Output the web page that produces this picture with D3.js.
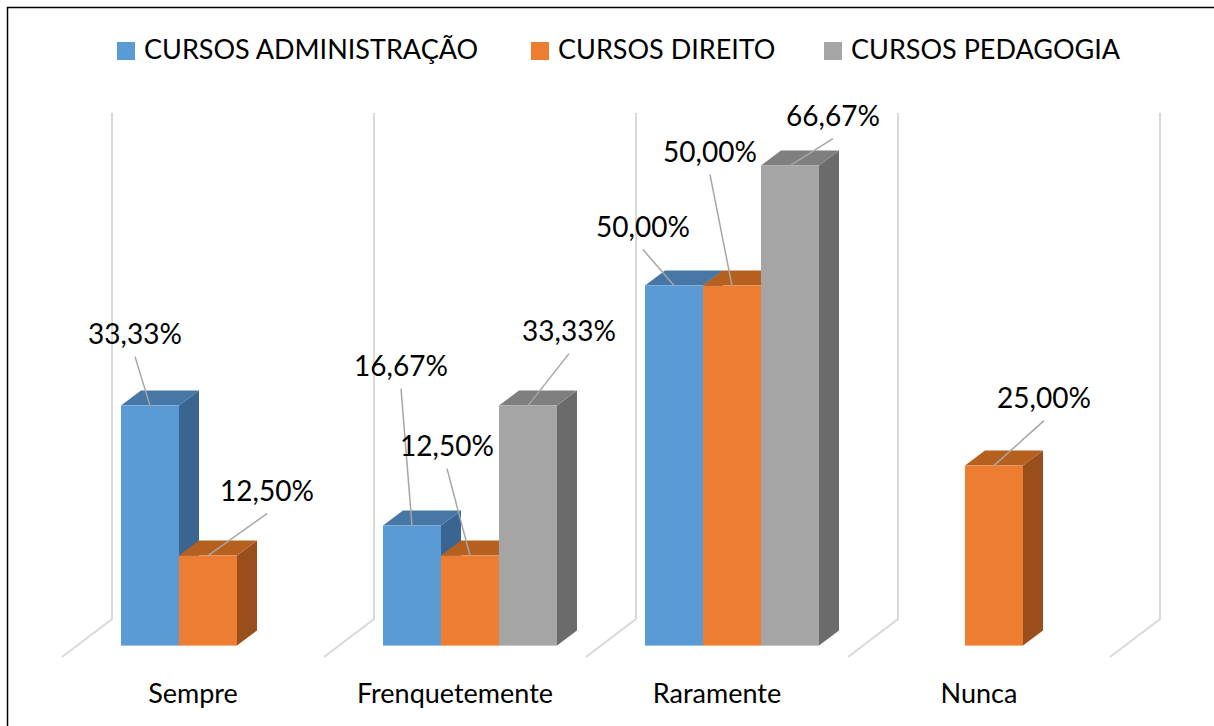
<!DOCTYPE html>
<html>
<head>
<meta charset="utf-8">
<script src="https://cdn.jsdelivr.net/npm/d3@7"></script>
<style>
  body { margin: 0; background: #fff; }
  svg { display: block; font-family: Lato, "Open Sans", sans-serif; }
</style>
</head>
<body>
<svg id="chart" width="1214" height="726"></svg>
<script>
// categories and series
var categories = ["Sempre", "Frenquetemente", "Raramente", "Nunca"];
var series = ["CURSOS ADMINISTRAÇÃO", "CURSOS DIREITO", "CURSOS PEDAGOGIA"];
var adminValues = [33.33, 16.67, 50.00, null];
var direitoValues = [12.50, 12.50, 50.00, 25.00];
var pedagogiaValues = [null, 33.33, 66.67, null];

// manual label placement (text offset from top-front centre of the bar), like in the original
var adminLabelOffset = [[-15, -62], [-11, -150], [-31, -49], null];
var direitoLabelOffset = [[59, -55], [-23, -100], [-22, -124], [50, -58]];
var pedagogiaLabelOffset = [null, [41, -65], [43, -40], null];

var colors = {
    front: ["#5b9bd5", "#ed7d31", "#a5a5a5"],
    top: ["#4677a5", "#b5601f", "#7f7f7f"],
    side: ["#3a6590", "#9a4e1c", "#6b6b6b"]
};

var svg = d3.select("#chart");

// border
svg.append("rect")
    .attr("x", 7.5).attr("y", 7.5)
    .attr("width", 1230).attr("height", 740)
    .attr("fill", "none").attr("stroke", "#000").attr("stroke-width", 1.5);

// floor: front edge y=657, back edge y=619, depth vector (50,-38)
var floorFront = 657, depthX = 50, depthY = -38;
var x = d3.scaleBand().domain(categories).range([62, 1110]);
var xs = d3.scaleBand().domain(d3.range(3)).range([44, 218]);
var h = d3.scaleLinear().domain([0, 100]).range([0, 720]);

// walls / gridlines
var edges = d3.range(categories.length + 1).map(function (i) { return 62 + i * x.step(); });
var grid = svg.append("g").attr("stroke", "#d9d9d9").attr("stroke-width", 2).attr("fill", "none");
edges.forEach(function (ex) {
    grid.append("path")
        .attr("d", "M" + (ex + depthX) + ",113 L" + (ex + depthX) + "," + (floorFront + depthY) +
            " L" + ex + "," + floorFront);
});

// bars: occupy depth fraction 0.3 .. 0.7
var d0 = 0.3, d1 = 0.7;
var allValues = [adminValues, direitoValues, pedagogiaValues];
var allOffsets = [adminLabelOffset, direitoLabelOffset, pedagogiaLabelOffset];

var bars = [];
categories.forEach(function (c, ci) {
    allValues.forEach(function (vals, si) {
        if (vals[ci] == null) return;
        var x0 = x(c) + xs(si) + d0 * depthX;
        var y0 = floorFront + d0 * depthY;
        bars.push({
            cat: c, s: si, v: vals[ci], off: allOffsets[si][ci],
            x0: x0, x1: x0 + xs.bandwidth(), base: y0, top: y0 - h(vals[ci])
        });
    });
});

var ox = (d1 - d0) * depthX, oy = (d1 - d0) * depthY;
var barG = svg.append("g");
bars.forEach(function (b) {
    var g = barG.append("g");
    g.append("path") // side
        .attr("d", "M" + b.x1 + "," + b.base + " L" + (b.x1 + ox) + "," + (b.base + oy) +
            " L" + (b.x1 + ox) + "," + (b.top + oy) + " L" + b.x1 + "," + b.top + "Z")
        .attr("fill", colors.side[b.s]);
    g.append("path") // top
        .attr("d", "M" + b.x0 + "," + b.top + " L" + (b.x0 + ox) + "," + (b.top + oy) +
            " L" + (b.x1 + ox) + "," + (b.top + oy) + " L" + b.x1 + "," + b.top + "Z")
        .attr("fill", colors.top[b.s]);
    g.append("rect") // front
        .attr("x", b.x0).attr("y", b.top)
        .attr("width", b.x1 - b.x0).attr("height", b.base - b.top)
        .attr("fill", colors.front[b.s]);
});

// data labels with leader lines
var fmt = function (v) { return v.toFixed(2).replace(".", ",") + "%"; };
var labG = svg.append("g");
bars.forEach(function (b) {
    var ax = (b.x0 + b.x1) / 2, ay = b.top;
    var tx = ax + b.off[0], ty = ay + b.off[1];
    labG.append("line")
        .attr("x1", tx).attr("y1", ty + 13)
        .attr("x2", ax).attr("y2", ay)
        .attr("stroke", "#a6a6a6").attr("stroke-width", 1.5);
    labG.append("text")
        .attr("x", tx).attr("y", ty)
        .attr("text-anchor", "middle")
        .attr("font-size", 28)
        .attr("fill", "#000")
        .text(fmt(b.v));
});

// category labels
svg.append("g").selectAll("text")
    .data(categories)
    .enter().append("text")
    .attr("x", function (d) { return x(d) + x.bandwidth() / 2; })
    .attr("y", 703)
    .attr("text-anchor", "middle")
    .attr("font-size", 27)
    .attr("fill", "#000")
    .text(function (d) { return d; });

// legend
var legendX = [117, 531, 824];
var legend = svg.append("g").selectAll("g")
    .data(series)
    .enter().append("g")
    .attr("transform", function (d, i) { return "translate(" + legendX[i] + ",0)"; });
legend.append("rect")
    .attr("x", 0).attr("y", 42).attr("width", 18).attr("height", 18)
    .attr("fill", function (d, i) { return colors.front[i]; });
legend.append("text")
    .attr("x", 27).attr("y", 59)
    .attr("font-size", 27)
    .attr("fill", "#000")
    .text(function (d) { return d; });
</script>
</body>
</html>
